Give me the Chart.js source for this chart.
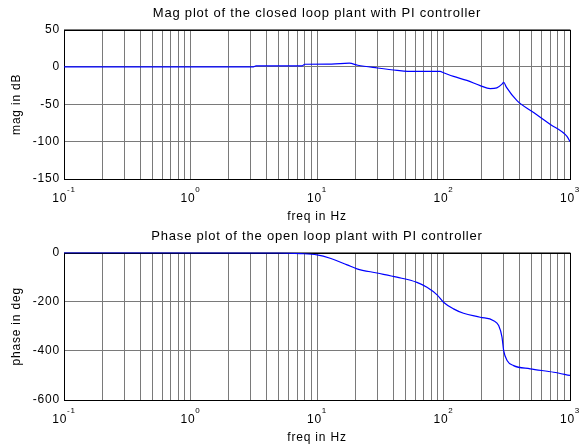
<!DOCTYPE html>
<html>
<head>
<meta charset="utf-8">
<script src="https://cdn.jsdelivr.net/npm/chart.js@4"></script>
<style>
  body { margin: 0; background: #fff; }
  canvas { display: block; }
</style>
</head>
<body>
<canvas id="magChart" width="580" height="224"></canvas>
<canvas id="phaseChart" width="580" height="224"></canvas>
<script>
// magnitude of the closed loop
const magFreq = [0.1, 3.1, 3.3, 5, 7.6, 8, 13, 18, 21, 30, 43, 58, 94, 100, 120, 153, 195, 234, 264, 290, 299, 314, 381, 516, 700, 946, 1000];
const magDb   = [0, 0, 1.4, 1.4, 1.4, 3.6, 3.8, 5, 2.3, -1.4, -4.5, -6, -6, -7.7, -12.7, -18, -25, -29, -28, -23, -20.5, -27, -45, -61, -77, -93, -100];

// phase of the open loop
const phaseFreq = [0.1, 5, 7.4, 10, 12.7, 17.3, 20.7, 29.8, 42.8, 61.6, 74, 89, 100, 120, 144, 195, 249, 273, 290, 299, 318, 358, 484, 743, 1000];
const phaseDeg  = [0, -1, -4, -9.5, -23, -50, -66, -83, -100, -121, -141, -172, -202, -229, -247, -263, -277, -297, -344, -399, -439, -460, -473, -487, -500];

// tick labels
const xDecades = [0.1, 1, 10, 100, 1000];
const xExponents = ['-1', '0', '1', '2', '3'];
const magTicks = [-150, -100, -50, 0, 50];
const phaseTicks = [-600, -400, -200, 0];

const family = '"Liberation Sans", Arial, sans-serif';
const spacing = '0.8px';
Chart.defaults.font.family = family;
Chart.defaults.color = '#000';

// grid lines at 1..9 of every decade
const xGrid = [];
xDecades.forEach(d => {
  for (let m = 1; m <= 9; m++) {
    if (d * m <= 1000) xGrid.push(+(d * m).toPrecision(3));
  }
});

const bodePlugin = {
  id: 'bode',
  beforeUpdate(chart) { chart.ctx.letterSpacing = spacing; },
  beforeDraw(chart) { chart.ctx.letterSpacing = spacing; },
  beforeDatasetsDraw(chart) {
    // box round the axes
    const { ctx, chartArea: a } = chart;
    ctx.save();
    ctx.strokeStyle = '#000';
    ctx.lineWidth = 1;
    ctx.strokeRect(Math.round(a.left) + 0.5, Math.round(a.top) + 0.5,
      Math.round(a.right - a.left), Math.round(a.bottom - a.top));
    ctx.restore();
  },
  afterDraw(chart) {
    // 10^n labels with raised exponent
    const { ctx, chartArea: a, scales: { x } } = chart;
    ctx.save();
    ctx.letterSpacing = spacing;
    ctx.fillStyle = '#000';
    ctx.textAlign = 'left';
    ctx.textBaseline = 'alphabetic';
    xDecades.forEach((d, i) => {
      const px = x.getPixelForValue(d);
      ctx.font = '12px ' + family;
      const w1 = ctx.measureText('10').width;
      ctx.font = '8px ' + family;
      const w2 = ctx.measureText(xExponents[i]).width;
      const x0 = px - (w1 + w2) / 2;
      ctx.font = '12px ' + family;
      ctx.fillText('10', x0, a.bottom + 23);
      ctx.font = '8px ' + family;
      ctx.fillText(xExponents[i], x0 + w1, a.bottom + 13);
    });
    ctx.restore();
  }
};

function makeBode(id, title, titlePad, yTitle, xs, ys, yTicks, xHeight, xTitlePad) {
  const ctx = document.getElementById(id).getContext('2d');
  return new Chart(ctx, {
    type: 'line',
    data: {
      datasets: [{
        data: xs.map((f, i) => ({ x: f, y: ys[i] })),
        borderColor: '#0000ff',
        borderWidth: 1.2,
        pointRadius: 0,
        cubicInterpolationMode: 'monotone'
      }]
    },
    options: {
      responsive: false,
      animation: false,
      layout: { padding: { left: 0, right: 10, top: 0, bottom: 0 } },
      plugins: {
        legend: { display: false },
        tooltip: { enabled: false },
        title: {
          display: true,
          text: title,
          fullSize: false,
          font: { size: 13, weight: 'normal' },
          padding: titlePad
        }
      },
      scales: {
        x: {
          type: 'logarithmic',
          min: 0.1,
          max: 1000,
          afterBuildTicks: s => { s.ticks = xGrid.map(v => ({ value: v })); },
          afterFit: s => { s.height = xHeight; },
          ticks: { display: false },
          grid: { color: '#7a7a7a', drawTicks: false },
          border: { display: false },
          title: { display: true, text: 'freq in Hz', font: { size: 12 }, padding: { top: 0, bottom: xTitlePad } }
        },
        y: {
          min: yTicks[0],
          max: yTicks[yTicks.length - 1],
          afterBuildTicks: s => { s.ticks = yTicks.map(v => ({ value: v })); },
          afterFit: s => { s.width = 64; },
          ticks: { padding: 4, font: { size: 12 } },
          grid: { color: '#7a7a7a', drawTicks: false },
          border: { display: false },
          title: { display: true, text: yTitle, font: { size: 12 }, padding: { top: 9, bottom: 0 } }
        }
      }
    },
    plugins: [bodePlugin]
  });
}

makeBode('magChart', 'Mag plot of the closed loop plant with PI controller',
  { top: 6, bottom: 8 }, 'mag in dB', magFreq, magDb, magTicks, 45, 0);
makeBode('phaseChart', 'Phase plot of the open loop plant with PI controller',
  { top: 5, bottom: 8 }, 'phase in deg', phaseFreq, phaseDeg, phaseTicks, 48, 3);
</script>
</body>
</html>
